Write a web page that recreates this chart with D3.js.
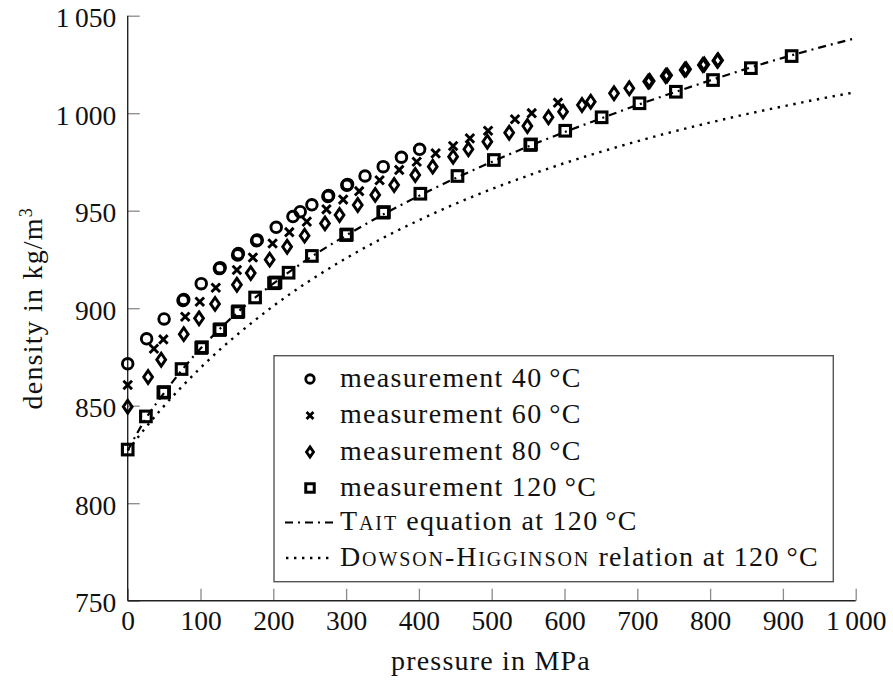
<!DOCTYPE html>
<html>
<head>
<meta charset="utf-8">
<script src="https://cdn.jsdelivr.net/npm/d3@7/dist/d3.min.js"></script>
<style>
  html, body { margin: 0; padding: 0; background: #fff; }
  svg { display: block; }
  text { font-family: "Liberation Serif", "Times New Roman", serif; fill: #111; }
</style>
</head>
<body>
<svg id="chart" width="893" height="684"></svg>
<script>
// Measured density of the lubricant (kg/m³) against pressure (MPa)
const p40 = [0, 26, 50, 76, 77, 101, 126, 127, 151, 152, 177, 178, 204, 227, 237, 253, 275, 276, 301, 302, 326, 351, 376, 401];
const rho40 = [871.5, 884.3, 894.5, 904.0, 904.5, 912.6, 920.3, 920.8, 927.3, 928.0, 934.6, 935.0, 941.5, 947.0, 949.5, 953.0, 957.3, 957.8, 963.0, 963.5, 967.8, 972.6, 977.4, 981.5];

const p60 = [0, 36, 49, 79, 99, 121, 150, 172, 199, 222, 246, 273, 296, 318, 346, 373, 397, 423, 447, 470, 495, 532, 555, 591];
const rho60 = [860.6, 879.2, 884.0, 895.6, 903.3, 910.5, 919.6, 926.0, 933.2, 939.0, 944.4, 950.7, 955.7, 960.0, 965.6, 970.9, 975.1, 979.4, 983.2, 987.1, 991.0, 996.9, 1000.0, 1005.4];

const p80 = [0, 28, 46, 77, 98, 120, 150, 169, 195, 219, 243, 271, 291, 316, 340, 366, 395, 419, 447, 468, 494, 524, 549, 578, 598, 624, 636, 668, 689, 715, 717, 739, 741, 765, 767, 790, 792, 810, 811];
const rho80 = [849.5, 864.7, 873.6, 886.7, 894.8, 902.2, 912.0, 918.0, 924.9, 931.5, 937.2, 943.5, 947.8, 952.9, 958.1, 963.2, 968.3, 972.6, 977.7, 981.5, 985.4, 990.0, 993.4, 997.9, 1000.8, 1004.2, 1005.9, 1010.2, 1012.8, 1016.2, 1016.5, 1019.1, 1019.4, 1022.2, 1022.5, 1024.7, 1025.0, 1026.9, 1027.2];

const p120 = [0, 25, 49, 50, 74, 101, 102, 126, 127, 151, 152, 175, 201, 203, 221, 253, 300, 301, 351, 352, 402, 453, 503, 553, 554, 601, 651, 703, 753, 804, 856, 912];
const rho120 = [827.5, 844.5, 856.7, 857.0, 868.8, 879.6, 880.0, 888.8, 889.2, 898.0, 898.4, 905.5, 912.8, 913.2, 918.2, 926.8, 937.5, 937.8, 949.0, 949.3, 958.7, 967.8, 976.0, 983.7, 984.0, 991.0, 997.9, 1005.1, 1011.0, 1017.0, 1023.1, 1029.3];

// Model curves at 120 °C
const pTait = [0, 25, 50, 75, 100, 125, 150, 200, 250, 300, 350, 400, 450, 500, 550, 600, 650, 700, 750, 800, 850, 900, 950, 1000];
const rhoTait = [827.0, 843.5, 856.5, 868.5, 879.3, 888.8, 897.6, 912.6, 925.8, 937.3, 947.9, 957.6, 966.6, 975.0, 982.9, 990.3, 997.3, 1004.2, 1010.6, 1016.8, 1022.8, 1028.4, 1033.6, 1038.5];

const pDH = [0, 25, 50, 75, 100, 125, 150, 175, 200, 250, 300, 350, 400, 450, 500, 550, 600, 650, 700, 750, 800, 850, 900, 950, 1000];
const rhoDH = [827.0, 838.9, 849.9, 860.0, 869.4, 878.2, 886.3, 893.9, 901.1, 914.1, 925.6, 935.9, 945.1, 953.5, 961.1, 968.0, 974.4, 980.2, 985.6, 990.6, 995.2, 999.5, 1003.5, 1007.3, 1010.8];

// Axis ticks
const xTicks = [0, 100, 200, 300, 400, 500, 600, 700, 800, 900, 1000];
const yTicks = [750, 800, 850, 900, 950, 1000, 1050];

// Legend entries
const legendLabels = [
  { kind: "circle",  parts: [["measurement 40\u2009°C", false]] },
  { kind: "cross",   parts: [["measurement 60\u2009°C", false]] },
  { kind: "diamond", parts: [["measurement 80\u2009°C", false]] },
  { kind: "square",  parts: [["measurement 120\u2009°C", false]] },
  { kind: "dashdot", parts: [["Tait", true], [" equation at 120\u2009°C", false]] },
  { kind: "dotted",  parts: [["Dowson-Higginson", true], [" relation at 120\u2009°C", false]] }
];

const svg = d3.select("#chart");
const x = d3.scaleLinear().domain([0, 1000]).range([127.7, 855.7]);
const y = d3.scaleLinear().domain([750, 1050]).range([600.7, 15.7]);

const fmt = v => {
  const s = String(v);
  return s.length > 3 ? s.slice(0, s.length - 3) + "\u2009" + s.slice(-3) : s;
};

// Ticks (inward, grey) and labels
const gx = svg.append("g").attr("transform", `translate(0,${y(750)})`)
  .call(d3.axisBottom(x).tickValues(xTicks).tickSizeInner(-12).tickSizeOuter(0).tickPadding(10).tickFormat(fmt));
const gy = svg.append("g").attr("transform", `translate(${x(0)},0)`)
  .call(d3.axisLeft(y).tickValues(yTicks).tickSizeInner(-12).tickSizeOuter(0).tickPadding(11.5).tickFormat(fmt));
[gx, gy].forEach(g => {
  g.select(".domain").remove();
  g.selectAll(".tick line").attr("stroke", "#8a8a8a").attr("stroke-width", 1.3);
  g.selectAll(".tick text").attr("font-size", 27.5).attr("font-family", "Liberation Serif").attr("fill", "#111");
});
gx.selectAll(".tick text").attr("dy", "0.71em");
gy.selectAll(".tick text").attr("dy", "0.4em");

// Axis lines
svg.append("line").attr("x1", x(0)).attr("x2", x(1000)).attr("y1", y(750)).attr("y2", y(750))
  .attr("stroke", "#222").attr("stroke-width", 1.4);
svg.append("line").attr("x1", x(0)).attr("x2", x(0)).attr("y1", y(750)).attr("y2", y(1050))
  .attr("stroke", "#222").attr("stroke-width", 1.4);

// Model curves
const line = d3.line().x(d => x(d[0])).y(d => y(d[1])).curve(d3.curveMonotoneX);
svg.append("path").datum(d3.zip(pDH, rhoDH)).attr("d", line)
  .attr("fill", "none").attr("stroke", "#000").attr("stroke-width", 2.4).attr("stroke-dasharray", "2.4,5.6");
svg.append("path").datum(d3.zip(pTait, rhoTait)).attr("d", line)
  .attr("fill", "none").attr("stroke", "#000").attr("stroke-width", 2.2).attr("stroke-dasharray", "8,5,2,5");

// Marker shapes
function drawMarker(g, kind, cx, cy, s, sw) {
  if (kind === "circle") {
    g.append("circle").attr("cx", cx).attr("cy", cy).attr("r", 5.3 * s)
      .attr("fill", "none").attr("stroke", "#000").attr("stroke-width", sw);
  } else if (kind === "cross") {
    const h = 4.3 * s;
    g.append("path").attr("d", `M${cx - h},${cy - h}L${cx + h},${cy + h}M${cx - h},${cy + h}L${cx + h},${cy - h}`)
      .attr("fill", "none").attr("stroke", "#000").attr("stroke-width", sw);
  } else if (kind === "diamond") {
    const w = 4.4 * s, h = 6.4 * s;
    g.append("path").attr("d", `M${cx},${cy - h}L${cx + w},${cy}L${cx},${cy + h}L${cx - w},${cy}Z`)
      .attr("fill", "none").attr("stroke", "#000").attr("stroke-width", sw).attr("stroke-linejoin", "miter");
  } else if (kind === "square") {
    const h = 5.3 * s;
    g.append("rect").attr("x", cx - h).attr("y", cy - h).attr("width", 2 * h).attr("height", 2 * h)
      .attr("fill", "none").attr("stroke", "#000").attr("stroke-width", sw + 0.2);
  }
}

const series = [
  ["circle", p40, rho40],
  ["cross", p60, rho60],
  ["diamond", p80, rho80],
  ["square", p120, rho120]
];
const marks = svg.append("g");
series.forEach(([kind, ps, rs]) => {
  ps.forEach((p, i) => drawMarker(marks, kind, x(p), y(rs[i]), 1, 2.9));
});

// Legend
const lg = svg.append("g");
lg.append("rect").attr("x", 274).attr("y", 355.7).attr("width", 559.3).attr("height", 226)
  .attr("fill", "#fff").attr("stroke", "#555").attr("stroke-width", 1.4);
const rowY = [379, 415.5, 452, 488, 522.5, 558];
legendLabels.forEach((item, i) => {
  const cy = rowY[i];
  if (item.kind === "dashdot") {
    lg.append("line").attr("x1", 285).attr("x2", 333).attr("y1", cy).attr("y2", cy)
      .attr("stroke", "#000").attr("stroke-width", 2.2).attr("stroke-dasharray", "8,5,2,5");
  } else if (item.kind === "dotted") {
    lg.append("line").attr("x1", 286).attr("x2", 333).attr("y1", cy).attr("y2", cy)
      .attr("stroke", "#000").attr("stroke-width", 2.4).attr("stroke-dasharray", "2.4,5.6");
  } else {
    drawMarker(lg, item.kind, 310, cy, 0.8, 2.8);
  }
  const t = lg.append("text").attr("x", 340).attr("y", cy + 7.8).attr("font-size", 28)
    .attr("letter-spacing", 1.3);
  item.parts.forEach(([s, sc]) => {
    const ts = t.append("tspan").text(s);
    if (sc) ts.style("font-variant", "small-caps").attr("letter-spacing", 1.9);
  });
});

// Axis titles
svg.append("text").attr("x", 491).attr("y", 670).attr("text-anchor", "middle").attr("font-size", 28)
  .attr("letter-spacing", 1.2).text("pressure in MPa");
const yt = svg.append("text").attr("transform", `translate(42,${y(900)}) rotate(-90)`)
  .attr("text-anchor", "middle").attr("font-size", 28).attr("letter-spacing", 1.2);
yt.append("tspan").text("density in kg/m");
yt.append("tspan").attr("baseline-shift", "super").attr("font-size", 18).text("3");
</script>
</body>
</html>
